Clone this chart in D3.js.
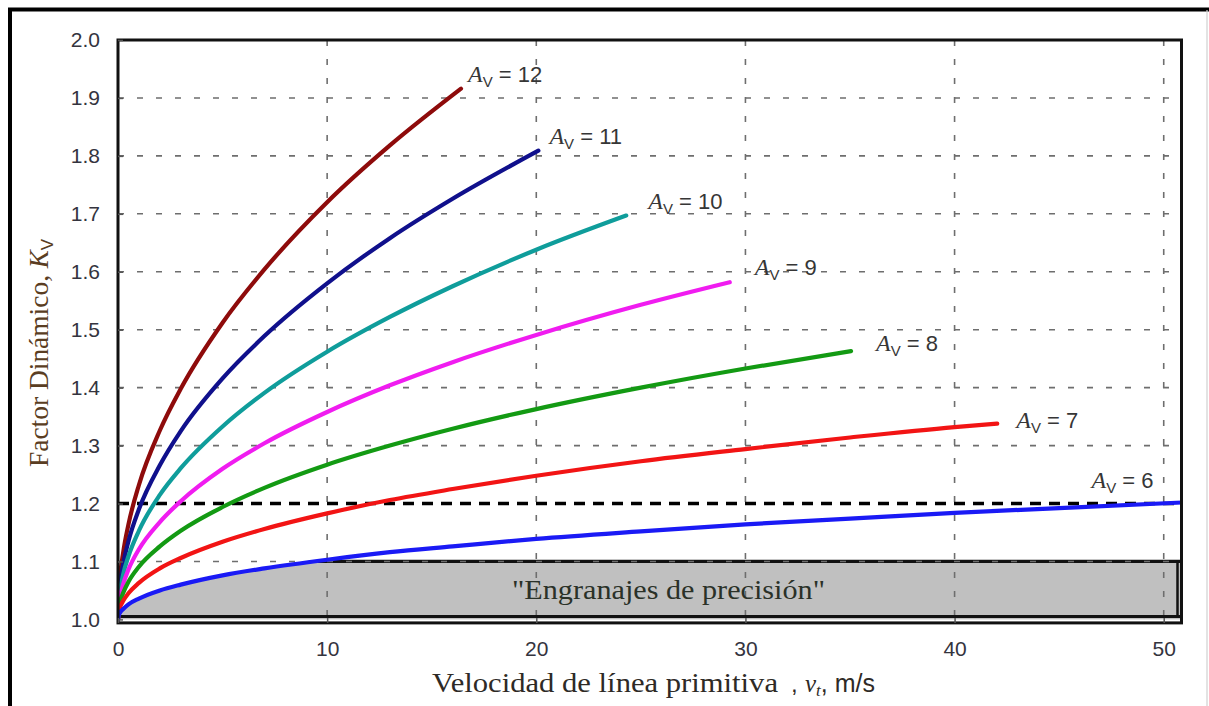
<!DOCTYPE html>
<html>
<head>
<meta charset="utf-8">
<script src="https://cdn.jsdelivr.net/npm/d3@7"></script>
<style>
  html, body { margin: 0; padding: 0; background: #ffffff; }
  svg { display: block; }
</style>
</head>
<body>
<svg id="chart" width="1209" height="706"></svg>
<script>
// Dynamic factor Kv versus pitch-line velocity (m/s) for transmission accuracy levels Av.
const accuracyLevels = [12, 11, 10, 9, 8, 7, 6];

const kvAv12 = [[0,1.000],[0.02,1.033],[0.1,1.074],[0.25,1.116],[0.5,1.164],[1,1.232],[2,1.326],[3,1.398],[5,1.512],[7,1.604],[10,1.720],[13,1.818],[16.4,1.916]];
const kvAv11 = [[0,1.000],[0.02,1.027],[0.1,1.061],[0.25,1.096],[0.5,1.135],[1,1.190],[2,1.266],[3,1.325],[5,1.416],[7,1.489],[10,1.580],[13,1.658],[16,1.726],[20.1,1.809]];
const kvAv10 = [[0,1.000],[0.02,1.022],[0.1,1.049],[0.25,1.078],[0.5,1.109],[1,1.153],[2,1.215],[3,1.261],[5,1.333],[7,1.391],[10,1.462],[13,1.522],[16,1.575],[20,1.638],[24.3,1.697]];
const kvAv9  = [[0,1.000],[0.02,1.018],[0.1,1.039],[0.25,1.061],[0.5,1.086],[1,1.121],[2,1.168],[3,1.204],[5,1.260],[7,1.304],[10,1.358],[13,1.404],[16,1.444],[20,1.491],[25,1.543],[29.25,1.582]];
const kvAv8  = [[0,1.000],[0.02,1.013],[0.1,1.030],[0.25,1.046],[0.5,1.065],[1,1.091],[2,1.126],[3,1.153],[5,1.194],[7,1.227],[10,1.267],[13,1.300],[16,1.329],[20,1.363],[25,1.400],[30,1.433],[35.05,1.463]];
const kvAv7  = [[0,1.000],[0.02,1.009],[0.1,1.021],[0.25,1.032],[0.5,1.045],[1,1.063],[2,1.088],[3,1.106],[5,1.134],[7,1.156],[10,1.183],[13,1.206],[16,1.225],[20,1.248],[25,1.273],[30,1.294],[35,1.314],[40,1.332],[42.04,1.338]];
const kvAv6  = [[0,1.000],[0.02,1.005],[0.1,1.012],[0.25,1.018],[0.5,1.026],[1,1.036],[2,1.050],[3,1.060],[5,1.076],[7,1.088],[10,1.103],[13,1.116],[16,1.126],[20,1.139],[25,1.152],[30,1.164],[35,1.174],[40,1.184],[45,1.192],[51,1.202]];

const kvSeries = [kvAv12, kvAv11, kvAv10, kvAv9, kvAv8, kvAv7, kvAv6];

const xTicks = [0, 10, 20, 30, 40, 50];
const yTicks = [1.0, 1.1, 1.2, 1.3, 1.4, 1.5, 1.6, 1.7, 1.8, 1.9, 2.0];
const xGridValues = [10, 20, 30, 40, 50];
const yGridValues = [1.1, 1.3, 1.4, 1.5, 1.6, 1.7, 1.8, 1.9];
const referenceKv = 1.2;          // heavy dashed reference line
const precisionBand = [1.0, 1.1]; // "Engranajes de precisión" band
const xMax = 50.85;

// ---- drawing ----
const curveColors = ["#8e0b0b", "#10108c", "#0f9d9b", "#f01cf0", "#139a13", "#f21414", "#1a1af5"];
// label anchor offsets (px) from each curve's end point
const labelOffsets = [[7, -7], [11, -7], [22, -7], [25, -7], [25, 0], [19, 4], [-90, -14]];

const svg = d3.select("#chart");
const W = 1209, H = 706;
const plotLeft = 118, plotRight = 1181.5, plotTop = 40, plotBottom = 619.4;

const x = d3.scaleLinear().domain([0, xMax]).range([plotLeft, plotRight]);
const y = d3.scaleLinear().domain([1.0, 2.0]).range([plotBottom, plotTop]);

const serif = "'Liberation Serif', 'Times New Roman', serif";
const sans = "'Liberation Sans', Arial, sans-serif";

// outer picture frame
svg.append("line").attr("x1", 10).attr("x2", 10).attr("y1", 8).attr("y2", H)
  .attr("stroke", "#000").attr("stroke-width", 4);
svg.append("line").attr("x1", 8).attr("x2", W).attr("y1", 9.5).attr("y2", 9.5)
  .attr("stroke", "#000").attr("stroke-width", 4);
svg.append("line").attr("x1", 1207).attr("x2", 1207).attr("y1", 10).attr("y2", H)
  .attr("stroke", "#d0d0d0").attr("stroke-width", 1.2);

const defs = svg.append("defs");
defs.append("clipPath").attr("id", "plotClip")
  .append("rect").attr("x", plotLeft).attr("y", plotTop)
  .attr("width", plotRight - plotLeft).attr("height", plotBottom - plotTop + 4);

const line = d3.line().x(d => x(d[0])).y(d => y(d[1])).curve(d3.curveMonotoneX);

// region below the Av = 6 curve, used to cut the precision band
const underAv6 = d3.area().x(d => x(d[0])).y0(y(1.0) + 6).y1(d => y(d[1])).curve(d3.curveMonotoneX);
defs.append("clipPath").attr("id", "bandClip")
  .append("path").attr("d", underAv6(kvAv6));

const plot = svg.append("g").attr("clip-path", "url(#plotClip)");

// precision band (grey), bounded above by min(Av = 6 curve, 1.1)
const band = plot.append("g").attr("clip-path", "url(#bandClip)");
band.append("rect")
  .attr("x", plotLeft).attr("y", y(precisionBand[1]))
  .attr("width", plotRight - plotLeft).attr("height", y(precisionBand[0]) - y(precisionBand[1]))
  .attr("fill", "#c0c0c0");

// dashed grid
plot.selectAll(".vgrid").data(xGridValues).join("line")
  .attr("class", "vgrid")
  .attr("x1", d => x(d)).attr("x2", d => x(d))
  .attr("y1", plotTop).attr("y2", plotBottom)
  .attr("stroke", "#6e6e6e").attr("stroke-width", 1.6)
  .attr("stroke-dasharray", "6,13");
plot.selectAll(".hgrid").data(yGridValues).join("line")
  .attr("class", "hgrid")
  .attr("x1", plotLeft).attr("x2", plotRight)
  .attr("y1", d => y(d)).attr("y2", d => y(d))
  .attr("stroke", "#6e6e6e").attr("stroke-width", 1.6)
  .attr("stroke-dasharray", "6,13");

// black top edge of the band where it is not under the curve
band.append("line")
  .attr("x1", plotLeft).attr("x2", plotRight)
  .attr("y1", y(precisionBand[1])).attr("y2", y(precisionBand[1]))
  .attr("stroke", "#111").attr("stroke-width", 3.2);

// band outline (right and bottom)
plot.append("line").attr("x1", plotRight - 4).attr("x2", plotRight - 4)
  .attr("y1", y(precisionBand[1])).attr("y2", plotBottom - 3)
  .attr("stroke", "#111").attr("stroke-width", 2.5);
plot.append("line").attr("x1", plotLeft).attr("x2", plotRight)
  .attr("y1", plotBottom - 3).attr("y2", plotBottom - 3)
  .attr("stroke", "#111").attr("stroke-width", 3);

// heavy dashed Kv = 1.2 reference
plot.append("line")
  .attr("x1", plotLeft).attr("x2", plotRight)
  .attr("y1", y(referenceKv)).attr("y2", y(referenceKv))
  .attr("stroke", "#000").attr("stroke-width", 3.5)
  .attr("stroke-dasharray", "11,8");

// band caption
plot.append("text")
  .attr("x", 512).attr("y", y(1.05) + 9)
  .attr("textLength", 313).attr("lengthAdjust", "spacingAndGlyphs")
  .attr("font-family", serif)
  .attr("font-size", 27)
  .attr("fill", "#2a3128")
  .text("\"Engranajes de precisión\"");

// Kv curves
plot.selectAll(".kv").data(kvSeries).join("path")
  .attr("class", "kv")
  .attr("d", line)
  .attr("fill", "none")
  .attr("stroke", (d, i) => curveColors[i])
  .attr("stroke-width", 4.2)
  .attr("stroke-linecap", "round")
  .attr("stroke-linejoin", "round");

// plot frame
svg.append("rect")
  .attr("x", plotLeft).attr("y", plotTop)
  .attr("width", plotRight - plotLeft).attr("height", plotBottom + 3.5 - plotTop)
  .attr("fill", "none").attr("stroke", "#111").attr("stroke-width", 3);

// axes
const tickColor = "#34343e";
const yAxis = svg.append("g").attr("transform", `translate(${plotLeft},0)`)
  .call(d3.axisLeft(y).tickValues(yTicks).tickFormat(d3.format(".1f")).tickSize(-5).tickPadding(18));
yAxis.select(".domain").remove();
yAxis.selectAll("line").attr("stroke", "#555").attr("stroke-width", 1.5);
yAxis.selectAll("text")
  .attr("font-family", sans)
  .attr("font-size", 21).attr("fill", tickColor);

const xAxis = svg.append("g").attr("transform", `translate(0,${plotBottom + 3.5})`)
  .call(d3.axisBottom(x).tickValues(xTicks).tickFormat(d3.format("d")).tickSize(-5).tickPadding(18));
xAxis.select(".domain").remove();
xAxis.selectAll("line").attr("stroke", "#555").attr("stroke-width", 1.5);
xAxis.selectAll("text")
  .attr("font-family", sans)
  .attr("font-size", 21).attr("fill", tickColor);

// curve labels "Av = n"
const labelG = svg.append("g");
kvSeries.forEach((s, i) => {
  const end = s[s.length - 1];
  const px = Math.min(x(end[0]), plotRight);
  const t = labelG.append("text")
    .attr("x", px + labelOffsets[i][0])
    .attr("y", y(end[1]) + labelOffsets[i][1])
    .attr("fill", "#363636");
  t.append("tspan")
    .attr("font-family", serif)
    .attr("font-style", "italic").attr("font-size", 24)
    .text("A");
  t.append("tspan")
    .attr("font-family", sans)
    .attr("font-size", 15).attr("dy", 5)
    .text("V");
  t.append("tspan")
    .attr("font-family", sans)
    .attr("font-size", 22).attr("dy", -5)
    .text(" = " + accuracyLevels[i]);
});

// axis titles
const xTitle = svg.append("text")
  .attr("x", 432).attr("y", 692)
  .attr("fill", "#2e2a26");
xTitle.append("tspan")
  .attr("font-family", serif)
  .attr("font-size", 28)
  .attr("textLength", 346).attr("lengthAdjust", "spacingAndGlyphs")
  .text("Velocidad de línea primitiva");
xTitle.append("tspan")
  .attr("x", 791)
  .attr("font-family", sans)
  .attr("font-size", 24)
  .text(",");
xTitle.append("tspan")
  .attr("x", 805)
  .attr("font-family", serif)
  .attr("font-style", "italic").attr("font-size", 25)
  .text("v");
xTitle.append("tspan")
  .attr("font-family", serif)
  .attr("font-style", "italic").attr("font-size", 17).attr("dy", 4)
  .text("t");
xTitle.append("tspan")
  .attr("font-family", sans)
  .attr("font-size", 25).attr("dy", -4)
  .text(", m/s");

const yTitle = svg.append("text")
  .attr("transform", "translate(48,467) rotate(-90)")
  .attr("fill", "#5a3d22");
yTitle.append("tspan")
  .attr("font-family", serif)
  .attr("font-size", 27)
  .attr("textLength", 192).attr("lengthAdjust", "spacingAndGlyphs")
  .text("Factor Dinámico,");
yTitle.append("tspan")
  .attr("font-family", serif)
  .attr("font-style", "italic").attr("font-size", 27)
  .text(" K");
yTitle.append("tspan")
  .attr("font-family", sans)
  .attr("font-size", 17).attr("dy", 5)
  .text("V");
</script>
</body>
</html>
